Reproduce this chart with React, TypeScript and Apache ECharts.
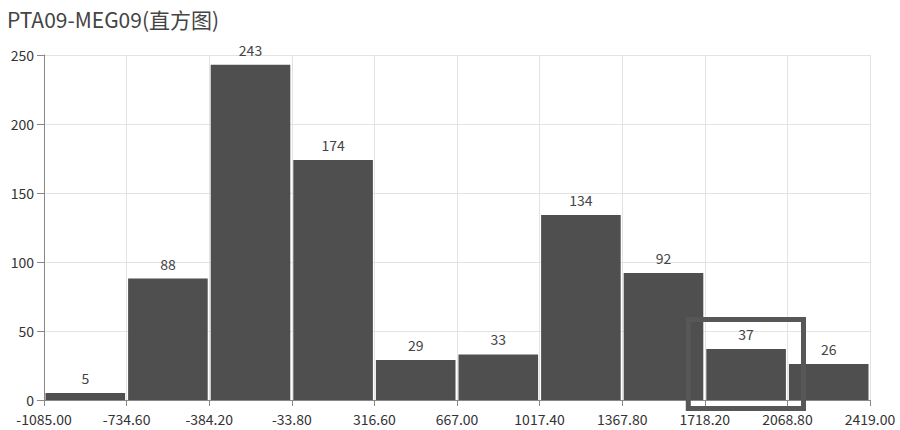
import React, { useEffect, useRef } from "react";
import * as echarts from "echarts";

const titleText = "PTA09-MEG09(直方图)";
const binEdges = ["-1085.00", "-734.60", "-384.20", "-33.80", "316.60", "667.00", "1017.40", "1367.80", "1718.20", "2068.80", "2419.00"];
const counts = [5, 88, 243, 174, 29, 33, 134, 92, 37, 26];
const yTicks = [0, 50, 100, 150, 200, 250];
// highlight box around bin 9, in bin-index / count units
const highlightX = [7.8, 9.195];
const highlightY = [58.3, -6.2];

const FONT = "'Noto Sans CJK SC', 'Noto Sans', sans-serif";

export default function App() {
  const ref = useRef<HTMLDivElement>(null);
  useEffect(() => {
    if (!ref.current) return;
    const chart = echarts.init(ref.current, undefined, { renderer: "svg" });
    const data = counts.map((c, i) => [i, i + 1, c]);
    chart.setOption({
      animation: false,
      title: {
        text: titleText,
        left: 7,
        top: 8,
        padding: 0,
        textStyle: { fontFamily: FONT, fontSize: 21, fontWeight: "normal", color: "#444" },
      },
      grid: { left: 44, right: 30, top: 55, bottom: 30 },
      xAxis: {
        type: "value",
        min: 0,
        max: binEdges.length - 1,
        interval: 1,
        axisLine: { show: true, lineStyle: { color: "#888" } },
        axisTick: { show: true, length: 6, lineStyle: { color: "#888" } },
        axisLabel: {
          color: "#333",
          fontFamily: FONT,
          fontSize: 14,
          margin: 12,
          lineHeight: 14,
          formatter: (v: number) => binEdges[Math.round(v)] ?? "",
        },
        splitLine: { show: true, lineStyle: { color: "#e3e3e3" } },
      },
      yAxis: {
        type: "value",
        min: yTicks[0],
        max: yTicks[yTicks.length - 1],
        interval: 50,
        axisLine: { show: true, lineStyle: { color: "#888" } },
        axisTick: { show: true, length: 7, lineStyle: { color: "#888" } },
        axisLabel: { color: "#333", fontFamily: FONT, fontSize: 14, margin: 10, lineHeight: 12 },
        splitLine: { show: true, lineStyle: { color: "#e3e3e3" } },
      },
      series: [
        {
          type: "custom",
          data,
          encode: { x: [0, 1], y: 2 },
          renderItem: (params: any, api: any) => {
            const lo = api.coord([api.value(0), 0]);
            const hi = api.coord([api.value(1), api.value(2)]);
            const x0 = lo[0] + 1.5;
            const x1 = hi[0] - 1.5;
            return {
              type: "group",
              children: [
                {
                  type: "rect",
                  shape: { x: x0, y: hi[1], width: x1 - x0, height: lo[1] - hi[1] },
                  style: { fill: "#4f4f4f" },
                },
                {
                  type: "text",
                  style: {
                    text: String(api.value(2)),
                    x: (x0 + x1) / 2,
                    y: hi[1] - 8,
                    align: "center",
                    verticalAlign: "bottom",
                    fill: "#444",
                    fontSize: 14,
                    fontFamily: FONT,
                  },
                },
              ],
            };
          },
        },
      ],
    });
    const p0 = chart.convertToPixel({ gridIndex: 0 }, [highlightX[0], highlightY[0]]) as number[];
    const p1 = chart.convertToPixel({ gridIndex: 0 }, [highlightX[1], highlightY[1]]) as number[];
    chart.setOption({
      graphic: [
        {
          type: "rect",
          shape: { x: p0[0], y: p0[1], width: p1[0] - p0[0], height: p1[1] - p0[1] },
          style: { fill: "none", stroke: "#575757", lineWidth: 5 },
          z: 100,
        },
      ],
    });
    return () => chart.dispose();
  }, []);
  return <div ref={ref} style={{ width: 900, height: 430, position: "absolute", left: 0, top: 0 }} />;
}
